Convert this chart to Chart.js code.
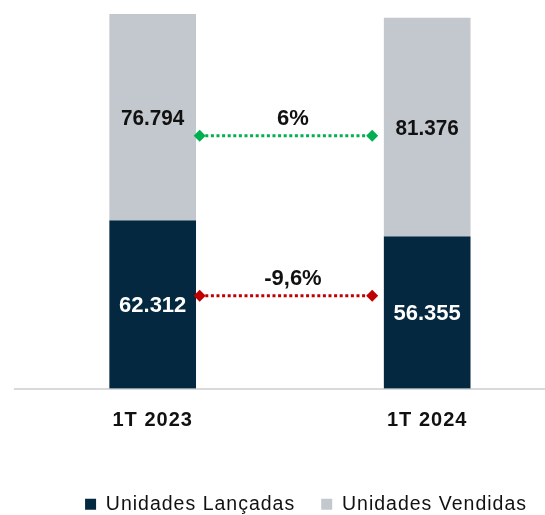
<!DOCTYPE html>
<html><head><meta charset="utf-8">
<script src="https://cdn.jsdelivr.net/npm/chart.js@4/dist/chart.umd.min.js"></script>
<style>html,body{margin:0;padding:0;background:#fff}#wrap{width:545px;height:515px}</style>
</head><body><div id="wrap"><canvas id="c"></canvas></div>
<script>
const categories = ['1T 2023', '1T 2024'];
const unidadesLancadas = [62312, 56355];
const unidadesVendidas = [76794, 81376];
const seriesNames = ['Unidades Lançadas', 'Unidades Vendidas'];

const FONT = "'Liberation Sans', Arial, Helvetica, sans-serif";
const fmt = v => String(v).replace(/\B(?=(\d{3})+(?!\d))/g, '.');
const pct = (a, b) => {
  let s = ((b - a) / a * 100).toFixed(1).replace('.', ',');
  s = s.replace(/,0$/, '');
  return s + '%';
};

const spacing = {
  id: 'spacing',
  beforeLayout(chart) { chart.ctx.letterSpacing = '1px'; },
  afterLayout(chart) {
    chart.legend.left += 8; chart.legend.right += 8;
  },
  beforeDraw(chart) { chart.ctx.letterSpacing = '1px'; }
};

function diamond(ctx, x, y, r) {
  ctx.beginPath();
  ctx.moveTo(x, y - r); ctx.lineTo(x + r, y); ctx.lineTo(x, y + r); ctx.lineTo(x - r, y);
  ctx.closePath(); ctx.fill();
}

const valuesPlugin = {
  id: 'vals',
  afterDatasetsDraw(chart, args, opts) {
    const ctx = chart.ctx;
    ctx.save();
    ctx.letterSpacing = '0px';
    ctx.font = `bold 22px ${FONT}`;
    ctx.textAlign = 'center';
    ctx.textBaseline = 'middle';
    chart.data.datasets.forEach((ds, i) => {
      const meta = chart.getDatasetMeta(i);
      meta.data.forEach((el, j) => {
        ctx.save();
        ctx.fillStyle = i === 0 ? '#ffffff' : '#111111';
        const sx = i === 0 ? 1 : 0.94;
        ctx.translate(el.x, (el.y + el.base) / 2 + 1);
        ctx.scale(sx, 1);
        ctx.fillText(fmt(ds.data[j].y), 0, 0);
        ctx.restore();
      });
    });
    const yScale = chart.scales.y;
    opts.connectors.forEach(c => {
      const meta = chart.getDatasetMeta(c.dataset);
      const b0 = meta.data[0], b1 = meta.data[1];
      const x1 = b0.x + b0.width / 2 + 4;
      const x2 = b1.x - b1.width / 2 - 12;
      const y = yScale.getPixelForValue(c.level);
      ctx.strokeStyle = c.color;
      ctx.fillStyle = c.color;
      ctx.lineWidth = 3;
      ctx.setLineDash([3, 2.6]);
      ctx.beginPath(); ctx.moveTo(x1, y); ctx.lineTo(x2, y); ctx.stroke();
      ctx.setLineDash([]);
      diamond(ctx, x1, y, 6);
      diamond(ctx, x2, y, 6);
      const d = chart.data.datasets[c.dataset].data;
      ctx.fillStyle = '#111111';
      ctx.font = `bold 22px ${FONT}`;
      ctx.fillText(pct(d[0].y, d[1].y), (b0.x + b1.x) / 2 + 3, y - 17);
    });
    ctx.restore();
  }
};

const ds0 = categories.map((c, i) => ({x: i, y: unidadesLancadas[i]}));
const ds1 = categories.map((c, i) => ({x: i, y: unidadesVendidas[i]}));

new Chart(document.getElementById('c'), {
  type: 'bar',
  data: {
    datasets: [
      {label: seriesNames[0], data: ds0, backgroundColor: '#03283f', barThickness: 86},
      {label: seriesNames[1], data: ds1, backgroundColor: '#c3c7ce', barThickness: 86}
    ]
  },
  options: {
    responsive: true, maintainAspectRatio: false, animation: false,
    layout: {padding: {left: 15, right: 0, top: 12, bottom: -9}},
    scales: {
      x: {
        type: 'linear', stacked: true, min: -0.5016, max: 1.4292, offset: false,
        grid: {display: false, drawTicks: false},
        border: {display: true, color: '#d9d9d9', width: 2},
        afterBuildTicks: s => { s.ticks = categories.map((c, i) => ({value: i})); },
        afterFit: s => { s.height += 16; },
        ticks: {
          callback: v => categories[v], autoSkip: false, maxRotation: 0,
          font: {family: FONT, size: 20, weight: 'bold'}, color: '#111111', padding: 20
        }
      },
      y: {stacked: true, display: false, min: 0, max: 140000}
    },
    plugins: {
      legend: {
        position: 'bottom', align: 'end',
        labels: {boxWidth: 11, boxHeight: 11, padding: 26, color: '#111111', font: {family: FONT, size: 19.5}}
      },
      tooltip: {enabled: false},
      vals: {
        connectors: [
          {dataset: 1, level: 94000, color: '#00b050'},
          {dataset: 0, level: 34500, color: '#c00000'}
        ]
      }
    }
  },
  plugins: [spacing, valuesPlugin]
});
</script></body></html>
